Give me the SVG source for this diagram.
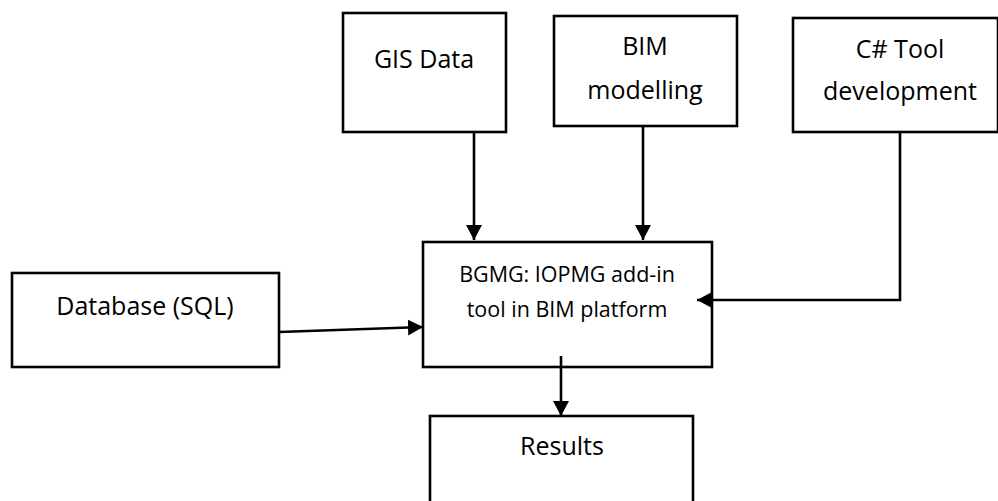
<svg xmlns="http://www.w3.org/2000/svg" width="998" height="501" viewBox="0 0 998 501">
  <style>
    .box { fill: #ffffff; stroke: #000000; stroke-width: 2.6; }
    .lbl { font-family: "Open Sans", "Liberation Sans", sans-serif; font-size: 25px; fill: #000000; text-anchor: middle; }
    .sm { font-size: 21.5px; }
    .edge { fill: none; stroke: #000000; stroke-width: 2.6; marker-end: url(#arrow); }
  </style>
  <defs>
    <marker id="arrow" markerUnits="userSpaceOnUse" markerWidth="16" markerHeight="16" refX="15" refY="8" orient="auto">
      <path d="M0,0 L15,8 L0,16 Z" fill="#000000"/>
    </marker>
  </defs>
  <rect width="998" height="501" fill="#ffffff"/>

  <g id="gis">
    <rect class="box" x="343" y="13" width="163" height="119"/>
    <text class="lbl" x="424" y="68">GIS Data</text>
  </g>
  <g id="bim">
    <rect class="box" x="554" y="16" width="183" height="110"/>
    <text class="lbl" x="645" y="55">BIM</text>
    <text class="lbl" x="645" y="99">modelling</text>
  </g>
  <g id="csharp">
    <rect class="box" x="793" y="18" width="205" height="114"/>
    <text class="lbl" x="900" y="58">C# Tool</text>
    <text class="lbl" x="900" y="100">development</text>
  </g>
  <g id="database">
    <rect class="box" x="12" y="273" width="267" height="94"/>
    <text class="lbl" x="145" y="315">Database (SQL)</text>
  </g>
  <g id="bgmg">
    <rect class="box" x="423" y="242" width="289" height="125"/>
    <text class="lbl sm" x="567" y="282">BGMG: IOPMG add-in</text>
    <text class="lbl sm" x="567" y="317">tool in BIM platform</text>
  </g>
  <g id="results">
    <rect class="box" x="430" y="416" width="263" height="100"/>
    <text class="lbl" x="562" y="455">Results</text>
  </g>

  <g id="connectors">
    <path class="edge" d="M474,132 L474,240"/>
    <path class="edge" d="M643,126 L643,240"/>
    <path class="edge" d="M900,132 L900,300 L697,300"/>
    <path class="edge" d="M279,332 L423,327"/>
    <path class="edge" d="M561,356 L561,416"/>
  </g>
</svg>
